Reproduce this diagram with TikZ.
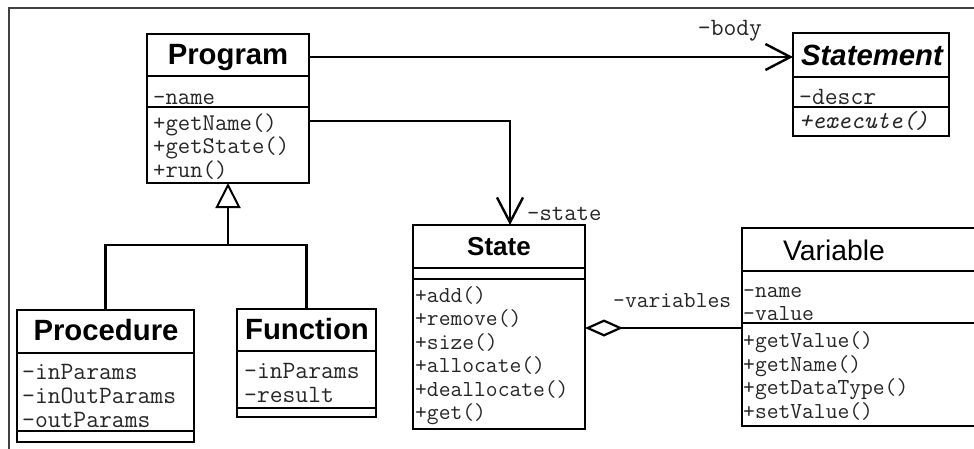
\documentclass[tikz,border=0pt]{standalone}
\usepackage{fontspec}
\setmainfont{Liberation Sans}
\usetikzlibrary{arrows.meta}
\begin{document}
\begin{tikzpicture}[x=1pt,y=-1pt,
  part/.style={draw, line width=2.4pt, inner sep=0pt, outer sep=0pt, anchor=north west, fill=white},
  ttl/.style={anchor=base, inner sep=0pt, font=\fontsize{29.3}{29.3}\selectfont\bfseries},
  mem/.style={anchor=base west, inner sep=0pt, text=black!85, font=\fontsize{24}{24}\selectfont\ttfamily},
  memsm/.style={mem, font=\fontsize{22.9}{22.9}\selectfont\ttfamily},
  memlg/.style={mem, font=\fontsize{24.9}{24.9}\selectfont\ttfamily},
  conn/.style={line width=2.4pt},
  frame/.style={line width=1.2pt, draw=black!75}
]
\clip (0,0) rectangle (974,448);
\fill[white] (0,0) rectangle (974,448);
\draw[frame] (974,8) -- (9,8) -- (9,449);

% Program
\node[part, minimum width=162pt, minimum height=42pt] (prgT) at (147,34) {};
\node[part, minimum width=162pt, minimum height=31pt] (prgA) at (147,76) {};
\node[part, minimum width=162pt, minimum height=76pt] (prgM) at (147,107) {};
\node[ttl] (prgN) at (228,64) {Program};
\node[mem] (prg1) at (153,104) {-name};
\node[mem] (prg2) at (153,130) {+getName()};
\node[mem] (prg3) at (153,153.5) {+getState()};
\node[mem] (prg4) at (153,177) {+run()};

% Statement
\node[part, minimum width=156pt, minimum height=44pt] (stmT) at (793,33) {};
\node[part, minimum width=156pt, minimum height=30pt] (stmA) at (793,77) {};
\node[part, minimum width=156pt, minimum height=29pt] (stmM) at (793,107) {};
\node[ttl, font=\fontsize{29.3}{29.3}\selectfont\bfseries\itshape] (stmN) at (872,65) {Statement};
\node[memlg] (stm1) at (799,104) {-descr};
\node[memlg, font=\fontsize{24.6}{24.6}\selectfont\ttfamily\itshape] (stm2) at (799,128) {+execute()};

% Procedure
\node[part, minimum width=177pt, minimum height=43pt] (proT) at (17,310) {};
\node[part, minimum width=177pt, minimum height=78pt] (proA) at (17,353) {};
\node[part, minimum width=177pt, minimum height=11pt] (proM) at (17,431) {};
\node[ttl] (proN) at (106,340) {Procedure};
\node[memlg] (pro1) at (22,379) {-inParams};
\node[memlg] (pro2) at (22,403) {-inOutParams};
\node[memlg] (pro3) at (22,427) {-outParams};

% Function
\node[part, minimum width=139pt, minimum height=42pt] (funT) at (237,309) {};
\node[part, minimum width=139pt, minimum height=57pt] (funA) at (237,351) {};
\node[part, minimum width=139pt, minimum height=9pt] (funM) at (237,408) {};
\node[ttl] (funN) at (307,339) {Function};
\node[memlg] (fun1) at (244,378) {-inParams};
\node[memlg] (fun2) at (244,402) {-result};

% State
\node[part, minimum width=172pt, minimum height=43pt] (stT) at (413,225) {};
\node[part, minimum width=172pt, minimum height=11pt] (stA) at (413,268) {};
\node[part, minimum width=172pt, minimum height=150pt] (stM) at (413,279) {};
\node[ttl, font=\fontsize{26}{26}\selectfont\bfseries] (stN) at (499,255) {State};
\node[memsm] (st1) at (415,302) {+add()};
\node[memsm] (st2) at (415,325.5) {+remove()};
\node[memsm] (st3) at (415,349) {+size()};
\node[memsm] (st4) at (415,372.5) {+allocate()};
\node[memsm] (st5) at (415,396) {+deallocate()};
\node[memsm] (st6) at (415,419.5) {+get()};

% Variable
\node[part, minimum width=260pt, minimum height=43pt] (varT) at (742,228) {};
\node[part, minimum width=260pt, minimum height=52pt] (varA) at (742,271) {};
\node[part, minimum width=260pt, minimum height=103pt] (varM) at (742,323) {};
\node[ttl, font=\fontsize{28.3}{28.3}\selectfont] (varN) at (834,260) {Variable};
\node[memsm] (var1) at (743,297) {-name};
\node[memsm] (var2) at (743,320) {-value};
\node[memsm] (var3) at (743,347) {+getValue()};
\node[memsm] (var4) at (743,371) {+getName()};
\node[memsm] (var5) at (743,394.5) {+getDataType()};
\node[memsm] (var6) at (743,418) {+setValue()};

% Program -> Statement
\draw[conn, -{Straight Barb[length=25pt, width=26pt, line width=2.4pt]}] ([yshift=-2pt]prgT.east) -- ([yshift=-2pt]stmT.west);
\node[memlg, anchor=base] (lbody) at (730,35) {-body};

% Program -> State
\draw[conn, -{Straight Barb[length=25pt, width=26pt, line width=2.4pt]}] ([yshift=-14pt]prgM.north east) -| ([xshift=11pt]stT.north);
\node[mem] (lstate) at (527,220) {-state};

% Generalization
\coordinate (gj) at (prgM.south |- 0,245);
\draw[conn] (proT.north) |- (gj) -| (funT.north);
\draw[conn, -{Triangle[open, length=25pt, width=25pt, line width=2pt, fill=white]}] (gj) -- (prgM.south);

% Aggregation
\draw[conn, {Diamond[open, length=38pt, width=17pt, line width=2.2pt, fill=white]}-] ([yshift=26pt]stM.east) -- ([yshift=-5pt]varM.north west);
\node[memsm] (lvars) at (613,307) {-variables};
\end{tikzpicture}
\end{document}
